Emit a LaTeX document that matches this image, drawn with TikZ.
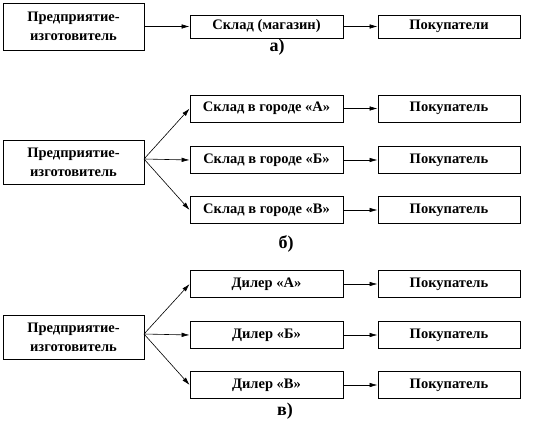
\documentclass[tikz,border=0pt]{standalone}
\usepackage{fontspec}
\setmainfont{Liberation Serif}
\usetikzlibrary{arrows.meta}
\begin{document}
\begin{tikzpicture}[x=1pt,y=-1pt,
  box/.style={draw,line width=0.8pt,inner sep=0pt,align=center,font=\bfseries\fontsize{14.5}{19}\selectfont},
  srcbox/.style={box,minimum width=141pt,minimum height=44pt},
  midbox/.style={box,minimum width=153pt,minimum height=27pt},
  endbox/.style={box,minimum width=142pt,minimum height=27pt},
  arr/.style={-{Latex[length=8pt,width=4.5pt]},line width=0.6pt},
  lab/.style={font=\bfseries\fontsize{18}{20}\selectfont}]
\useasboundingbox (0,0) rectangle (534,430);
% panel a
\node[srcbox,minimum height=47pt] (La) at (73.5,26.5) {Предприятие-\\изготовитель};
\node[midbox,minimum height=23pt] (Ma) at (266.5,26.5) {Склад (магазин)};
\node[endbox,minimum height=23pt] (Ra) at (449,26.5) {Покупатели};
\draw[arr] (La.east) -- (Ma.west);
\draw[arr] (Ma.east) -- (Ra.west);
\node[lab] (la) at (277,47) {а)};
% panel b
\node[srcbox] (Lb) at (73.5,162) {Предприятие-\\изготовитель};
\node[midbox] (Mb1) at (266.5,108.5) {Склад в городе «А»};
\node[midbox] (Mb2) at (266.5,160) {Склад в городе «Б»};
\node[midbox] (Mb3) at (266.5,210) {Склад в городе «В»};
\node[endbox] (Rb1) at (449,108.5) {Покупатель};
\node[endbox] (Rb2) at (449,160) {Покупатель};
\node[endbox] (Rb3) at (449,210) {Покупатель};
\coordinate (ob) at (144,159);
\draw[arr] (ob) -- (Mb1.west);
\draw[arr] (ob) -- (Mb2.west);
\draw[arr] (ob) -- (Mb3.west);
\draw[arr] (Mb1.east) -- (Rb1.west);
\draw[arr] (Mb2.east) -- (Rb2.west);
\draw[arr] (Mb3.east) -- (Rb3.west);
\node[lab] (lb) at (286,244) {б)};
% panel c
\node[srcbox] (Lc) at (73.5,337) {Предприятие-\\изготовитель};
\node[midbox] (Mc1) at (266.5,284) {Дилер «А»};
\node[midbox] (Mc2) at (266.5,335) {Дилер «Б»};
\node[midbox] (Mc3) at (266.5,385) {Дилер «В»};
\node[endbox] (Rc1) at (449,284) {Покупатель};
\node[endbox] (Rc2) at (449,335) {Покупатель};
\node[endbox] (Rc3) at (449,385) {Покупатель};
\coordinate (oc) at (144,334);
\draw[arr] (oc) -- (Mc1.west);
\draw[arr] (oc) -- (Mc2.west);
\draw[arr] (oc) -- (Mc3.west);
\draw[arr] (Mc1.east) -- (Rc1.west);
\draw[arr] (Mc2.east) -- (Rc2.west);
\draw[arr] (Mc3.east) -- (Rc3.west);
\node[lab] (lc) at (285,411) {в)};
\end{tikzpicture}
\end{document}
